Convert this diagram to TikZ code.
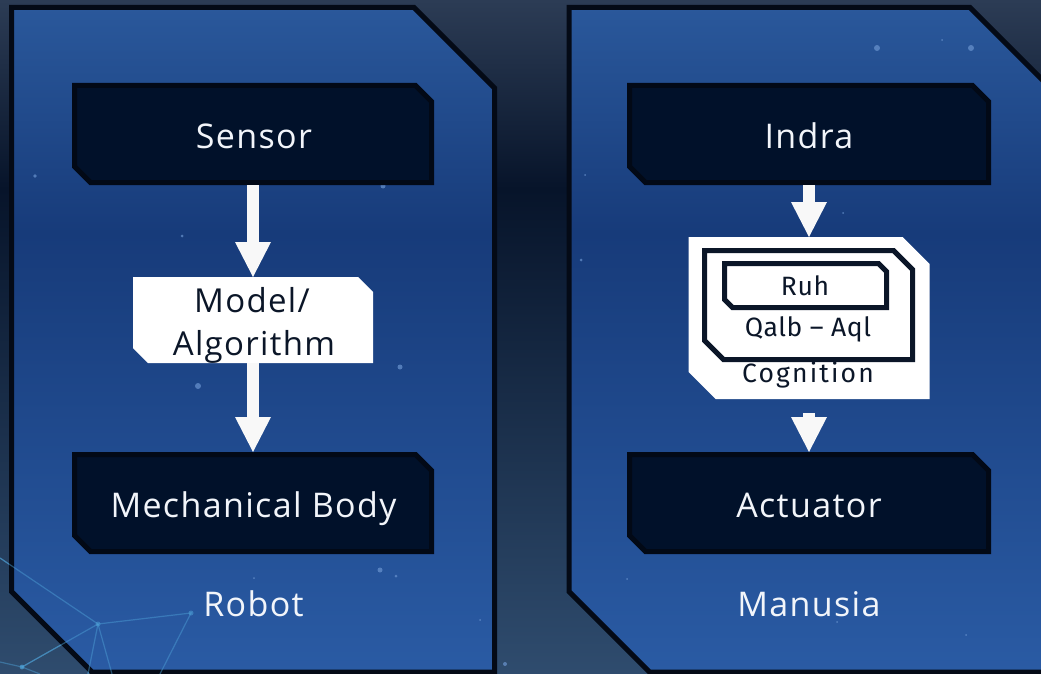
\documentclass[tikz,border=0pt]{standalone}
\usepackage{fontspec}
\setmainfont{Open Sans}[LetterSpace=4]
\newfontfamily\cogfont{Fira Sans}[LetterSpace=2]
\newfontfamily\cogwide{Fira Sans}[LetterSpace=8]
\usetikzlibrary{arrows.meta,calc}
\definecolor{bgtop}{HTML}{2C3C55}
\definecolor{bgmid}{HTML}{07142A}
\definecolor{bgbot}{HTML}{2F4C6E}
\definecolor{ptop}{HTML}{2A589B}
\definecolor{pmid}{HTML}{173B7A}
\definecolor{pbot}{HTML}{2A5BA4}
\definecolor{pborder}{HTML}{040A16}
\definecolor{dfill}{HTML}{01112A}
\definecolor{dline}{HTML}{020916}
\definecolor{ink}{HTML}{0B1628}
\definecolor{arrw}{HTML}{F8F8F8}
\definecolor{net}{HTML}{4FA3D9}
\definecolor{dotc}{HTML}{6A94CF}
\definecolor{lighttext}{HTML}{F2F5FA}
\pgfdeclareverticalshading{bgsh}{100bp}{color(0bp)=(bgbot); color(25bp)=(bgbot); color(61bp)=(bgmid); color(75bp)=(bgtop); color(100bp)=(bgtop)}
\pgfdeclareverticalshading{pansh}{100bp}{color(0bp)=(pbot); color(25bp)=(pbot); color(58bp)=(pmid); color(75bp)=(ptop); color(100bp)=(ptop)}
\pgfdeclarelayer{bgl}
\pgfdeclarelayer{boxl}
\pgfsetlayers{bgl,boxl,main}
% chamfered outline around a named node: name, chamfer, inset, style
\newcommand\chpoly[4]{%
  \path[#4] ([shift={({#3},{#3})}]#1.north west)
    -- ([shift={({-#3-#2},{#3})}]#1.north east)
    -- ([shift={({-#3},{#3+#2})}]#1.north east)
    -- ([shift={({-#3},{-#3})}]#1.south east)
    -- ([shift={({#3+#2},{-#3})}]#1.south west)
    -- ([shift={({#3},{-#3-#2})}]#1.south west)
    -- cycle;}
\tikzset{
  boxnode/.style={rectangle, inner sep=0pt, outer sep=0pt},
  darkbox/.style={fill=dfill, draw=dline, line width=5pt},
  whitebox/.style={fill=white},
  inkbox/.style={draw=ink, line width=5pt},
  panel/.style={shading=pansh, draw=pborder, line width=5pt},
  lighttxt/.style={anchor=base, text=lighttext, font=\fontsize{34}{40}\selectfont, inner sep=0pt},
  darktxt/.style={anchor=base, text=ink, font=\fontsize{33}{40}\selectfont, inner sep=0pt},
  cogtxt/.style={anchor=base, text=ink, font=\cogfont\fontsize{26.5}{32}\selectfont, inner sep=0pt},
  arr/.style={draw=arrw, line width=12pt, -{Triangle[length=35pt,width=36pt,line width=0pt]}},
  netline/.style={draw=net, line width=1.2pt, opacity=0.45},
  dot/.style={fill=dotc, opacity=0.7},
}
\begin{document}
\begin{tikzpicture}[x=1pt,y=-1pt]
\useasboundingbox (0,0) rectangle (1041,674);
\begin{pgfonlayer}{bgl}
  \shade[shading=bgsh] (0,0) rectangle (1041,674);
  % network lines in lower left
  \draw[netline] (0,558) -- (98,624) -- (191,613) -- (160,674);
  \draw[netline] (98,624) -- (88,674);
  \draw[netline] (98,624) -- (112,674);
  \draw[netline] (98,624) -- (22,667) -- (0,662);
  \draw[netline] (22,667) -- (40,674);
  \fill[net, opacity=0.5] (98,624) circle (2.5) (191,613) circle (2.5) (22,667) circle (2.5);
  % panels
  \path[panel] (11.5,7.5) -- (414,7.5) -- (494.5,88) -- (494.5,672) -- (92,672) -- (11.5,591.5) -- cycle;
  \path[panel] (569,7.5) -- (970,7.5) -- (1060,97.5) -- (1060,672) -- (649.5,672) -- (569,591.5) -- cycle;
  % network over panel
  \draw[netline] (0,558) -- (98,624) -- (191,613) -- (160,674);
  \draw[netline] (98,624) -- (88,674);
  \draw[netline] (98,624) -- (112,674);
  \draw[netline] (98,624) -- (22,667);
  \fill[net, opacity=0.5] (98,624) circle (2.5) (191,613) circle (2.5) (22,667) circle (2);
  % faint stars
  \fill[dot] (35,176) circle (1.8) (383,186) circle (2.5) (182,236) circle (1.5) (198,386) circle (3)
    (400,367) circle (2.5) (581,260) circle (1.5) (877,48) circle (3) (971,48) circle (3)
    (942,40) circle (1) (585,175) circle (1) (380,570) circle (2.5) (396,576) circle (1.5)
    (254,578) circle (1) (480,620) circle (1) (627,579) circle (1) (837,622) circle (1)
    (966,635) circle (1) (505,664) circle (2) (843,213) circle (1);
\end{pgfonlayer}

% box nodes (outer sizes)
\node[boxnode, minimum width=362pt, minimum height=102pt] (sensor) at (253,134) {};
\node[boxnode, minimum width=362pt, minimum height=102pt] (mech) at (253,503) {};
\node[boxnode, minimum width=240pt, minimum height=86pt] (model) at (253,320) {};
\node[boxnode, minimum width=364pt, minimum height=102pt] (indra) at (809,134) {};
\node[boxnode, minimum width=364pt, minimum height=102pt] (act) at (809,503) {};
\node[boxnode, minimum width=241pt, minimum height=162pt] (cog) at (809,318) {};
\node[boxnode, minimum width=213pt, minimum height=114pt] (qalb) at (808.5,305) {};
\node[boxnode, minimum width=167pt, minimum height=49pt] (ruh) at (805.5,285.5) {};

\begin{pgfonlayer}{boxl}
  \chpoly{sensor}{16}{2.5}{darkbox}
  \chpoly{mech}{16}{2.5}{darkbox}
  \chpoly{indra}{16}{2.5}{darkbox}
  \chpoly{act}{16}{2.5}{darkbox}
  \chpoly{model}{15}{0}{whitebox}
  \chpoly{cog}{27}{0}{whitebox}
  \chpoly{qalb}{19}{2.5}{inkbox}
  \chpoly{ruh}{8}{2.5}{inkbox}
\end{pgfonlayer}

% connectors
\draw[arr] (sensor) -- (model);
\draw[arr] (model) -- (mech);
\draw[arr] (indra) -- (cog);
\draw[arr, shorten <=14pt] (cog) -- (act);

% texts
\node[lighttxt] (tsensor) at (254,149) {Sensor};
\node[lighttxt] (tmech) at (253.5,517) {Mechanical Body};
\node[lighttxt] (trobot) at (253.5,616) {Robot};
\node[lighttxt] (tindra) at (809,148) {Indra};
\node[lighttxt] (tact) at (809,517) {Actuator};
\node[lighttxt] (tmanusia) at (809,616) {Manusia};
\node[darktxt] (tmodel) at (252,312) {Model/};
\node[darktxt] (talgo) at (254,355) {Algorithm};
\node[cogtxt] (truh) at (805,295) {Ruh};
\node[cogtxt] (tqalb) at (808,336) {Qalb – Aql};
\node[cogtxt, font=\cogwide\fontsize{26.5}{32}\selectfont] (tcog) at (808,382) {Cognition};
\end{tikzpicture}
\end{document}
